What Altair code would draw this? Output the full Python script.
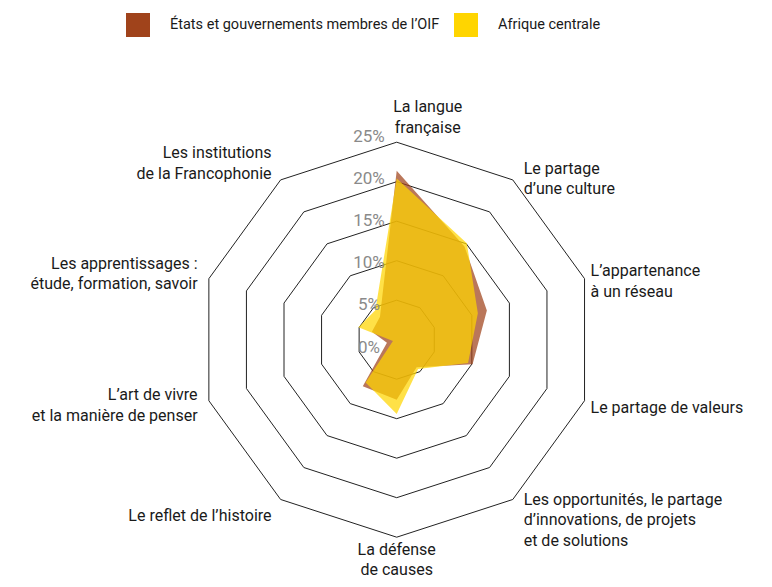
import math
import altair as alt
import pandas as pd

# ---------------- data ----------------
CATEGORY_LABELS = [
    "La langue\nfrançaise",
    "Le partage\nd’une culture",
    "L’appartenance\nà un réseau",
    "Le partage de valeurs",
    "Les opportunités, le partage\nd’innovations, de projets\net de solutions",
    "La défense\nde causes",
    "Le reflet de l’histoire",
    "L’art de vivre\net la manière de penser",
    "Les apprentissages :\nétude, formation, savoir",
    "Les institutions\nde la Francophonie",
]
SERIES = ["États et gouvernements membres de l’OIF", "Afrique centrale"]
OIF_VALUES = [21.4, 14.6, 12.0, 10.1, 4.3, 7.6, 7.3, 1.3, 3.3, 3.6]
AFRIQUE_VALUES = [20.4, 15.1, 10.8, 9.5, 4.6, 9.4, 6.7, 0.5, 5.1, 4.6]
RING_VALUES = [5, 10, 15, 20, 25]
TICK_VALUES = [0, 5, 10, 15, 20, 25]
TICK_LABELS = ["0%", "5%", "10%", "15%", "20%", "25%"]

# ---------------- style / layout ----------------
BROWN = "#A0431B"
YELLOW = "#FFD500"
FONT = "Roboto"
FS = 16
LEGEND_FS = 14.5
LH = 20.5
W, H = 756, 571
CX, CY = 388.7, 331.7
PX = 7.9          # pixels per percentage point
RMAX = 25

# label groups: radius (in % units), alignment, nudges (px)
GROUPS = {
    "right_h": dict(r=25.8, align="left", dx=0, dy=5),
    "right_d": dict(r=26.7, align="left", dx=3, dy=10),
    "left_h": dict(r=26.9, align="right", dx=3, dy=0),
    "left_d": dict(r=27.6, align="right", dx=3, dy=0),
    "top": dict(r=28.1, align="center", dx=31, dy=0),
    "bottom": dict(r=27.9, align="center", dx=0, dy=0),
}

n = len(CATEGORY_LABELS)
angles = [2 * math.pi * i / n for i in range(n)]


def polar(v, i):
    return v * math.sin(angles[i]), v * math.cos(angles[i])


def xsc():
    return alt.Scale(domain=[-RMAX, RMAX], range=[CX - RMAX * PX, CX + RMAX * PX], nice=False, zero=False)


def ysc():
    return alt.Scale(domain=[-RMAX, RMAX], range=[CY + RMAX * PX, CY - RMAX * PX], nice=False, zero=False)


def XY():
    return dict(x=alt.X("x:Q", scale=xsc(), axis=None), y=alt.Y("y:Q", scale=ysc(), axis=None))


# rings
ring_rows = []
for r in RING_VALUES:
    for k in range(n + 1):
        x, y = polar(r, k % n)
        ring_rows.append({"ring": r, "k": k, "x": x, "y": y})
rings_df = pd.DataFrame(ring_rows)


def poly_df(values):
    rows = []
    for k in range(n + 1):
        x, y = polar(values[k % n], k % n)
        rows.append({"k": k, "x": x, "y": y})
    return pd.DataFrame(rows)


rings = alt.Chart(rings_df).mark_line(stroke="#222222", strokeWidth=1).encode(
    **XY(), detail="ring:N", order="k:Q"
)

poly_oif = alt.Chart(poly_df(OIF_VALUES)).mark_line(
    fill=BROWN, fillOpacity=0.72, strokeOpacity=0, strokeWidth=0
).encode(**XY(), order="k:Q")

poly_afr = alt.Chart(poly_df(AFRIQUE_VALUES)).mark_line(
    fill=YELLOW, fillOpacity=0.72, strokeOpacity=0, strokeWidth=0
).encode(**XY(), order="k:Q")

# legend (invisible points carrying the colour legend)
legend_df = pd.DataFrame({"series": SERIES, "x": [0, 0], "y": [0, 0]})
legend_layer = alt.Chart(legend_df).mark_square(opacity=0, size=1).encode(
    **XY(),
    color=alt.Color(
        "series:N",
        scale=alt.Scale(domain=SERIES, range=[BROWN, YELLOW]),
        legend=alt.Legend(
            title=None, orient="none", legendX=118, legendY=5, direction="horizontal",
            symbolType="square", symbolSize=576, symbolStrokeWidth=0, symbolOpacity=1,
            labelFont=FONT, labelFontSize=LEGEND_FS, labelColor="#1a1a1a", labelOffset=20,
            columnPadding=14, padding=0, labelLimit=400,
        ),
    ),
)

# category labels (vega puts the first line on the anchor; shift so the block is centred)
lab_rows = []
for i, lab in enumerate(CATEGORY_LABELS):
    s, c = math.sin(angles[i]), math.cos(angles[i])
    if s > 0.9:
        g = "right_h"
    elif s > 0.1:
        g = "right_d"
    elif s < -0.9:
        g = "left_h"
    elif s < -0.1:
        g = "left_d"
    elif c > 0:
        g = "top"
    else:
        g = "bottom"
    x, y = polar(GROUPS[g]["r"], i)
    nlines = lab.count("\n") + 1
    y += (nlines - 1) * LH / 2 / PX
    lab_rows.append({"label": lab, "group": g, "x": x, "y": y})
lab_df = pd.DataFrame(lab_rows)


def label_layer(g):
    p = GROUPS[g]
    return alt.Chart(lab_df).transform_filter(alt.datum.group == g).mark_text(
        align=p["align"], baseline="middle", font=FONT, fontSize=FS, color="#1a1a1a",
        lineBreak="\n", lineHeight=LH, dx=p["dx"], dy=p["dy"],
    ).encode(**XY(), text="label:N")


label_layers = [label_layer(g) for g in GROUPS]

# radial tick labels
tick_df = pd.DataFrame({"v": TICK_VALUES, "t": TICK_LABELS})
ticks = alt.Chart(tick_df).mark_text(
    align="center", baseline="middle", font=FONT, fontSize=FS + 1, color="#8a8a8a"
).encode(
    x=alt.value(CX - 27.7),
    y=alt.Y("v:Q", scale=alt.Scale(domain=[0, 25], range=[CY + 7.8, CY - 202.7], nice=False, zero=False), axis=None),
    text="t:N",
)

chart = alt.layer(
    rings, poly_oif, poly_afr, legend_layer, *label_layers, ticks
).resolve_scale(x="independent", y="independent").properties(
    width=W, height=H, autosize=alt.AutoSizeParams(type="none"), padding=0
).configure_view(stroke=None)

chart.save("out.html", embed_options={"renderer": "svg", "actions": False})
